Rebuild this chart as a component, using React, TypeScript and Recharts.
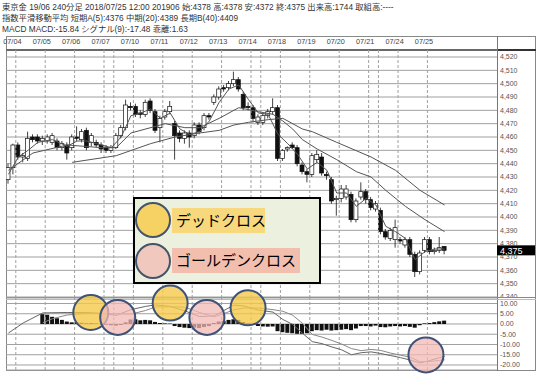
import React from 'react';
import {
  ComposedChart,
  Bar,
  Line,
  XAxis,
  YAxis,
  CartesianGrid,
  ReferenceLine,
  ReferenceDot,
} from 'recharts';

// 240分足 candles, 07/04 -> 07/25 (one entry per bar)
const opens = [
  4428, 4437, 4454, 4445, 4444, 4460, 4460, 4457, 4457, 4456,
  4457, 4452, 4454, 4452, 4460, 4458, 4465, 4456, 4456, 4454,
  4452, 4450, 4452, 4461, 4467, 4483, 4483, 4478, 4477, 4487,
  4479, 4467, 4475, 4479, 4470, 4463, 4459, 4463, 4461, 4469,
  4467, 4476, 4486, 4490, 4497, 4497, 4500, 4503, 4492, 4483,
  4482, 4471, 4471, 4476, 4479, 4482, 4444, 4451, 4454, 4452,
  4439, 4434, 4432, 4443, 4445, 4432, 4428, 4413, 4414, 4415,
  4417, 4398, 4415, 4419, 4413, 4406, 4405, 4389, 4384, 4383,
  4383, 4379, 4383, 4372, 4359, 4375, 4383, 4374, 4375, 4378,
];
const highs = [
  4440, 4455, 4456, 4448, 4464, 4462, 4462, 4461, 4462, 4463,
  4459, 4457, 4456, 4462, 4468, 4466, 4467, 4463, 4458, 4456,
  4454, 4454, 4463, 4469, 4488, 4486, 4485, 4480, 4488, 4489,
  4481, 4476, 4481, 4487, 4472, 4465, 4465, 4465, 4471, 4471,
  4478, 4478, 4492, 4498, 4499, 4502, 4509, 4505, 4494, 4486,
  4484, 4477, 4478, 4481, 4489, 4484, 4451, 4453, 4456, 4454,
  4441, 4436, 4448, 4450, 4448, 4434, 4430, 4416, 4424, 4424,
  4419, 4414, 4426, 4421, 4415, 4412, 4407, 4391, 4392, 4398,
  4385, 4385, 4385, 4374, 4375, 4385, 4385, 4377, 4385, 4378,
];
const lows = [
  4425, 4432, 4443, 4441, 4442, 4456, 4455, 4454, 4455, 4454,
  4450, 4450, 4443, 4450, 4457, 4456, 4450, 4453, 4452, 4448,
  4448, 4448, 4451, 4459, 4465, 4480, 4475, 4474, 4475, 4478,
  4463, 4456, 4473, 4477, 4443, 4456, 4455, 4452, 4459, 4462,
  4465, 4473, 4484, 4488, 4494, 4495, 4498, 4494, 4480, 4480,
  4471, 4469, 4469, 4474, 4477, 4442, 4442, 4449, 4451, 4438,
  4432, 4426, 4430, 4441, 4431, 4428, 4410, 4401, 4411, 4413,
  4396, 4396, 4413, 4410, 4405, 4404, 4387, 4383, 4382, 4377,
  4380, 4377, 4370, 4355, 4357, 4373, 4372, 4372, 4373, 4372,
];
const closes = [
  4437, 4454, 4445, 4446, 4459, 4458, 4457, 4459, 4460, 4461,
  4452, 4455, 4448, 4460, 4459, 4464, 4452, 4461, 4454, 4451,
  4450, 4452, 4461, 4467, 4484, 4482, 4477, 4477, 4486, 4480,
  4465, 4474, 4479, 4483, 4461, 4459, 4463, 4460, 4469, 4464,
  4476, 4475, 4490, 4496, 4496, 4500, 4503, 4496, 4482, 4482,
  4474, 4475, 4476, 4479, 4482, 4444, 4450, 4452, 4452, 4440,
  4434, 4432, 4446, 4447, 4433, 4431, 4412, 4414, 4421, 4421,
  4398, 4412, 4419, 4413, 4407, 4410, 4389, 4385, 4390, 4392,
  4382, 4383, 4372, 4359, 4373, 4383, 4374, 4375, 4377, 4375,
];

// moving averages: [bar index, value]
const ema5Pts = [
  [0, 4432], [2, 4445], [4, 4450], [6, 4456], [9, 4458], [12, 4453], [14, 4457],
  [16, 4457], [19, 4454], [21, 4452], [23, 4460], [25, 4476], [27, 4478], [29, 4481],
  [31, 4474], [33, 4478], [35, 4466], [37, 4462], [39, 4464], [41, 4472], [43, 4486],
  [45, 4496], [47, 4499], [49, 4488], [51, 4478], [53, 4477], [55, 4462], [57, 4455],
  [59, 4447], [61, 4436], [63, 4441], [65, 4435], [67, 4418], [69, 4418], [71, 4408],
  [73, 4414], [75, 4409], [77, 4393], [79, 4389], [81, 4384], [83, 4368], [85, 4374],
  [87, 4376], [89, 4376],
];
const ema20Pts = [
  [0, 4435], [5, 4448], [12, 4454], [19, 4452], [22, 4452], [25, 4463], [32, 4470],
  [36, 4467], [39, 4467], [43, 4474], [47, 4482], [51, 4479], [54, 4477], [56, 4472],
  [58, 4466], [60, 4458], [63, 4451], [67, 4443], [71, 4434], [74, 4430], [77, 4420],
  [81, 4408], [85, 4398], [89, 4389],
];
const ema40Pts = [
  [13, 4441], [22, 4446], [29, 4455], [34, 4460], [39, 4463], [43, 4465], [46, 4469],
  [49, 4471], [53, 4473], [56, 4474], [60, 4466], [62, 4464], [67, 4456], [74, 4445],
  [79, 4435], [84, 4420], [89, 4409],
];

// MACD panel
const histValues = [
  null, null, null, null, null, null, null,
  4.8, 4.5, 3.5, 2.8, 2.0, 1.2, 0.8, 0.8, 0.6, 0.4,
  0.5, 0.3, 0.1, -0.3, -0.6, -0.8, -0.5, 0.8, 2.2, 2.3,
  1.8, 2.0, 1.8, 1.0, 0.5, 0.3, 0.2, -1.0, -1.5, -1.8,
  -2.0, -1.8, -2.0, -1.5, -1.0, 0.5, 1.2, 1.5, 2.0, 2.3,
  2.0, 1.0, 0.4, -0.5, -1.0, -1.2, -1.3, -1.2, -3.5, -4.0,
  -4.3, -4.5, -4.8, -4.8, -4.5, -3.5, -3.0, -3.2, -2.8, -3.2,
  -3.0, -2.8, -2.5, -3.0, -2.2, -1.0, -1.0, -1.2, -0.8, -1.5,
  -1.6, -1.2, -1.0, -1.2, -1.0, -1.4, -1.8, -0.6, 0.3, 0.5,
  0.9, 1.3, 1.63,
];
const macdPts = [
  [0, -4.4], [3, 0.5], [7, 5.4], [12, 5.6], [16, 5.6], [19, 5.2], [22, 4.2], [25, 7.0],
  [28, 8.6], [30, 9.3], [33, 8.6], [36, 6.4], [39, 3.6], [42, 4.0], [44, 6.6], [46, 9.2],
  [48, 8.8], [51, 6.8], [54, 5.8], [56, 2.2], [58, -0.2], [60, -4.5], [62, -8.6],
  [64, -9.6], [66, -11.2], [68, -12.6], [70, -15.0], [72, -14.0], [74, -13.6],
  [76, -14.4], [78, -15.4], [80, -16.4], [82, -17.6], [84, -19.0], [86, -17.8],
  [88, -16.4], [89, -15.84],
];
const signalPts = [
  [7, 0.6], [9, 2.6], [12, 4.4], [16, 5.2], [19, 5.1], [22, 5.0], [25, 4.8], [28, 6.6],
  [30, 8.3], [33, 8.4], [36, 8.2], [39, 5.6], [42, 3.5], [44, 5.1], [46, 6.9], [48, 7.8],
  [51, 7.8], [54, 7.0], [56, 6.2], [58, 4.3], [60, 0.3], [62, -5.1], [64, -6.4],
  [66, -8.0], [68, -9.8], [70, -12.0], [72, -13.0], [74, -12.4], [76, -12.9],
  [78, -14.2], [80, -15.2], [82, -16.2], [84, -18.4], [86, -18.3], [88, -17.7],
  [89, -17.48],
];

const dateLabels = [
  '07/04', '07/05', '07/06', '07/07', '07/10', '07/11', '07/12', '07/13',
  '07/14', '07/18', '07/19', '07/20', '07/21', '07/24', '07/25',
];
const dateTickPos = [0.8, 6.8, 12.8, 18.8, 24.8, 30.8, 36.8, 42.8, 48.8, 54.8, 60.8, 66.8, 72.8, 78.8, 84.8];
const sessionLines = [1.5, 7.5, 13.5, 19.5, 21.5, 25.5, 31.5, 37.5, 43.5, 49.5, 51.5, 55.5, 61.5, 67.5, 73.5, 75.5, 79.5, 85.5];
const priceTicks = [4340, 4350, 4360, 4370, 4380, 4390, 4400, 4410, 4420, 4430, 4440, 4450, 4460, 4470, 4480, 4490, 4500, 4510, 4520];
const macdTicks = [10, 5, 0, -5, -10, -15, -20];
const lastPrice = 4375;

// crossing markers on the MACD panel: [bar index, MACD value]
const deadCross = [[16.8, 5.6], [33.0, 10.2], [48.9, 7.9]];
const goldenCross = [[22.3, 3.2], [40.5, 3.2], [85.2, -15.1]];

const lookup = (pts: number[][], i: number) => {
  const hit = pts.find((p) => p[0] === i);
  return hit ? hit[1] : null;
};

const data = closes.map((close, i) => ({
  i,
  open: opens[i],
  high: highs[i],
  low: lows[i],
  close,
  range: [lows[i], highs[i]],
  ema5: lookup(ema5Pts, i),
  ema20: lookup(ema20Pts, i),
  ema40: lookup(ema40Pts, i),
  hist: histValues[i],
  macd: lookup(macdPts, i),
  signal: lookup(signalPts, i),
}));

const X_DOMAIN = [-0.5, 99.7];
const FONT = "'Liberation Sans', Arial, 'Noto Sans CJK JP', sans-serif";

const Candle = (props: any) => {
  const { x, y, width, height, payload } = props;
  if (x == null || y == null) return null;
  const { open, close, high, low } = payload;
  const top = Math.min(y, y + height);
  const h = Math.abs(height);
  const span = high - low || 1;
  const toY = (v: number) => top + ((high - v) / span) * h;
  const cx = x + width / 2;
  const bodyTop = toY(Math.max(open, close));
  const bodyH = Math.max(1, toY(Math.min(open, close)) - bodyTop);
  const up = close >= open;
  return (
    <g>
      <line x1={cx} x2={cx} y1={top} y2={top + h} stroke="#111" strokeWidth={0.8} />
      <rect
        x={x}
        y={bodyTop}
        width={width}
        height={bodyH}
        fill={up ? '#fff' : '#111'}
        stroke="#111"
        strokeWidth={0.7}
      />
    </g>
  );
};

const PriceTag = (props: any) => {
  const vb = props.viewBox || {};
  if (vb.x == null) return null;
  const x = vb.x + vb.width;
  const y = vb.y;
  return (
    <g>
      <rect x={x} y={y - 5} width={38} height={10} fill="#000" />
      <text x={x + 3} y={y + 3.5} fill="#fff" fontSize={9} fontFamily={FONT}>
        {lastPrice.toLocaleString('en-US')}
      </text>
    </g>
  );
};

const header = [
  '東京金 19/06 240分足 2018/07/25 12:00 201906 始:4378 高:4378 安:4372 終:4375 出来高:1744 取組高:----',
  '指数平滑移動平均 短期A(5):4376 中期(20):4389 長期B(40):4409',
  'MACD MACD:-15.84 シグナル(9):-17.48 乖離:1.63',
];

const App: React.FC = () => {
  return (
    <div
      style={{
        position: 'absolute',
        left: 0,
        top: 0,
        width: 544,
        height: 378,
        background: '#fff',
        fontFamily: FONT,
        overflow: 'hidden',
      }}
    >
      {header.map((t, k) => (
        <div
          key={k}
          style={{
            position: 'absolute',
            left: 2,
            top: 2 + k * 11,
            fontSize: 8.3,
            lineHeight: '10px',
            color: '#333',
            whiteSpace: 'nowrap',
          }}
        >
          {t}
        </div>
      ))}

      {/* frame */}
      <svg width={544} height={378} style={{ position: 'absolute', left: 0, top: 0 }}>
        <rect x={6.5} y={36.5} width={529} height={334} fill="none" stroke="#888" />
        <line x1={6} x2={536} y1={50} y2={50} stroke="#333" strokeWidth={2} />
        <line x1={497.5} x2={497.5} y1={36} y2={371} stroke="#777" />
        <line x1={6} x2={536} y1={297.5} y2={297.5} stroke="#888" />
        <line x1={6} x2={536} y1={299.5} y2={299.5} stroke="#bbb" />
      </svg>

      {/* price panel */}
      <div style={{ position: 'absolute', left: 0, top: 36 }}>
        <ComposedChart width={535} height={261} data={data} margin={{ top: 0, right: 0, bottom: 0, left: 6 }}>
          <CartesianGrid vertical={false} stroke="#a0a0a0" />
          <XAxis
            type="number"
            dataKey="i"
            orientation="top"
            domain={X_DOMAIN}
            allowDataOverflow
            ticks={dateTickPos}
            interval={0}
            tickFormatter={(_v: number, idx: number) => dateLabels[idx]}
            height={14}
            axisLine={false}
            tickLine={false}
            tickSize={0}
            tickMargin={6}
            tick={{ fontSize: 7.3, fill: '#444' }}
          />
          <YAxis
            orientation="right"
            domain={[4340, 4525.25]}
            allowDataOverflow
            ticks={priceTicks}
            interval={0}
            width={38}
            axisLine={false}
            tickLine={false}
            tickSize={0}
            tickMargin={3}
            tickFormatter={(v: number) => v.toLocaleString('en-US')}
            tick={{ fontSize: 7, fill: '#555', textAnchor: 'start' }}
          />
          {sessionLines.map((v) => (
            <ReferenceLine key={v} x={v} stroke="#a0a0a0" strokeDasharray="3 2" />
          ))}
          <Bar dataKey="range" barSize={4} shape={(p: any) => <Candle {...p} />} isAnimationActive={false} />
          <Line dataKey="ema5" stroke="#555" strokeWidth={1} dot={false} connectNulls isAnimationActive={false} />
          <Line dataKey="ema20" stroke="#555" strokeWidth={1} dot={false} connectNulls isAnimationActive={false} />
          <Line dataKey="ema40" stroke="#555" strokeWidth={1} dot={false} connectNulls isAnimationActive={false} />
          <ReferenceLine y={lastPrice} stroke="none" label={(p: any) => <PriceTag {...p} />} />
        </ComposedChart>
      </div>

      {/* MACD panel */}
      <div style={{ position: 'absolute', left: 0, top: 280 }}>
        <ComposedChart width={535} height={94} data={data} margin={{ top: 18, right: 0, bottom: 4, left: 6 }}>
          <CartesianGrid vertical={false} stroke="#a0a0a0" />
          <XAxis type="number" dataKey="i" domain={X_DOMAIN} allowDataOverflow hide />
          <YAxis
            orientation="right"
            domain={[-22.44, 12.68]}
            allowDataOverflow
            ticks={macdTicks}
            interval={0}
            width={38}
            axisLine={false}
            tickLine={false}
            tickSize={0}
            tickMargin={3}
            tickFormatter={(v: number) => v.toFixed(2)}
            tick={{ fontSize: 7, fill: '#555', textAnchor: 'start' }}
          />
          {sessionLines.map((v) => (
            <ReferenceLine key={v} x={v} stroke="#a0a0a0" strokeDasharray="3 2" />
          ))}
          <Bar dataKey="hist" fill="#111" barSize={4} isAnimationActive={false} />
          <Line dataKey="macd" stroke="#666" strokeWidth={1} dot={false} connectNulls isAnimationActive={false} />
          <Line dataKey="signal" stroke="#888" strokeWidth={1} dot={false} connectNulls isAnimationActive={false} />
          {deadCross.map(([x, y]) => (
            <ReferenceDot
              key={`d${x}`}
              x={x}
              y={y}
              r={17.5}
              fill="#F5C94A"
              fillOpacity={0.8}
              stroke="#3F5278"
              strokeWidth={2}
              ifOverflow="visible"
            />
          ))}
          {goldenCross.map(([x, y]) => (
            <ReferenceDot
              key={`g${x}`}
              x={x}
              y={y}
              r={17.5}
              fill="#F3B9B4"
              fillOpacity={0.75}
              stroke="#3F5278"
              strokeWidth={2}
              ifOverflow="visible"
            />
          ))}
        </ComposedChart>
      </div>

      {/* legend */}
      <div
        style={{
          position: 'absolute',
          left: 133,
          top: 197,
          width: 184,
          height: 83,
          border: '2px solid #000',
          background: '#EBF1DE',
        }}
      >
        <div
          style={{
            position: 'absolute',
            left: 37,
            top: 9,
            width: 93,
            height: 25,
            background: '#F8D87C',
            fontSize: 15,
            lineHeight: '25px',
            paddingLeft: 4,
            boxSizing: 'border-box',
            color: '#000',
            whiteSpace: 'nowrap',
          }}
        >
          デッドクロス
        </div>
        <div
          style={{
            position: 'absolute',
            left: 37,
            top: 49,
            width: 128,
            height: 25,
            background: '#F2BFAF',
            fontSize: 15,
            lineHeight: '25px',
            paddingLeft: 4,
            boxSizing: 'border-box',
            color: '#000',
            whiteSpace: 'nowrap',
          }}
        >
          ゴールデンクロス
        </div>
        <div
          style={{
            position: 'absolute',
            left: 0,
            top: 3,
            width: 36,
            height: 36,
            borderRadius: '50%',
            border: '2px solid #44546A',
            background: '#F6D163',
            boxSizing: 'border-box',
          }}
        />
        <div
          style={{
            position: 'absolute',
            left: 0,
            top: 44,
            width: 36,
            height: 36,
            borderRadius: '50%',
            border: '2px solid #44546A',
            background: '#F0C8BE',
            boxSizing: 'border-box',
          }}
        />
      </div>
    </div>
  );
};

export default App;
